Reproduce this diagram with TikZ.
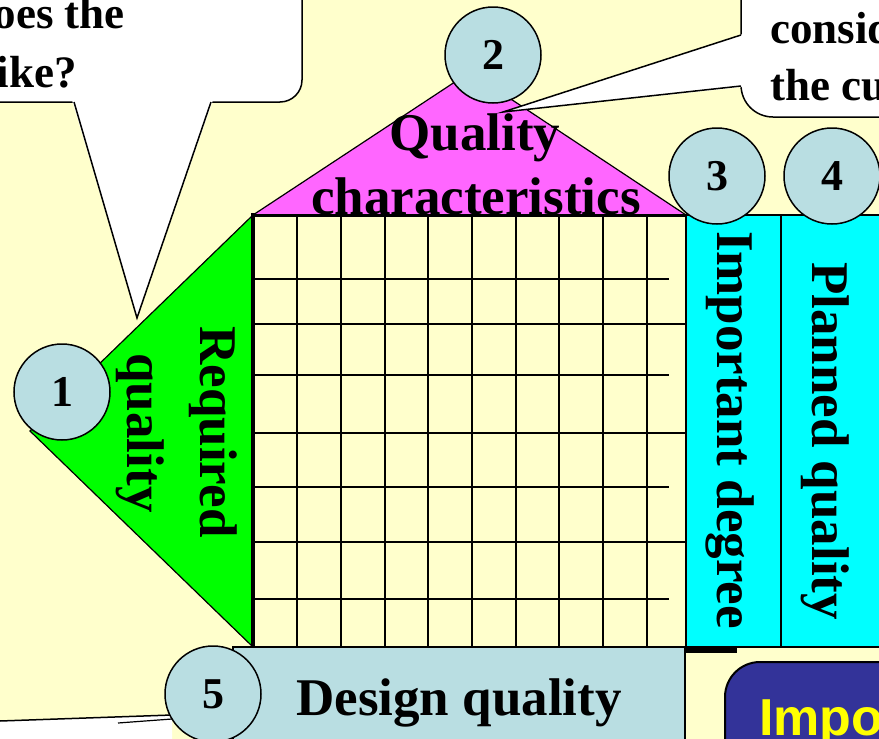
\documentclass[tikz,border=0pt]{standalone}
\usepackage{fontspec}
\setmainfont{Liberation Serif}
\newfontfamily\arialfont{Liberation Sans}
\definecolor{bgyellow}{HTML}{FFFFCC}
\definecolor{magentatri}{HTML}{FF66FF}
\definecolor{greentri}{HTML}{00FF00}
\definecolor{cyancol}{HTML}{00FFFF}
\definecolor{circblue}{HTML}{B9DEE2}
\definecolor{impblue}{HTML}{333399}
\definecolor{impyellow}{HTML}{FFFF00}
\tikzset{
  biglabel/.style={font=\fontsize{53}{60}\selectfont\bfseries, inner sep=0pt},
  calltext/.style={font=\fontsize{45}{50}\selectfont\bfseries, inner sep=0pt},
  numcirc/.style={circle, draw, line width=1.5pt, fill=circblue, minimum size=96pt,
    inner sep=0pt, font=\fontsize{44}{44}\selectfont\bfseries},
  gridthin/.style={line width=1.6pt},
  gridfull/.style={line width=2.2pt},
}
\begin{document}
\begin{tikzpicture}[x=1pt,y=-1pt]
\useasboundingbox (0,0) rectangle (879,739);
\clip (0,0) rectangle (879,739);
\fill[bgyellow] (0,0) rectangle (879,739);

% bottom-left white callout fragment
\fill[white] (0,721) -- (172,715) -- (172,745) -- (0,745) -- cycle;
\draw[line width=1.5pt] (0,721) -- (172,715);
\draw[line width=1.2pt] (118,723) -- (172,719);

% magenta triangle and its text
\draw[fill=magentatri, line width=1.2pt] (253,215) -- (470,72) -- (686,215) -- cycle;
\node[biglabel, anchor=base] (qual) at (475,150) {Quality};
\node[biglabel, anchor=base] (chars) at (476,214) {characteristics};

% green triangle
\draw[fill=greentri, line width=1.2pt] (253,215) -- (30,431) -- (253,647) -- cycle;

% grid
\fill[bgyellow] (253,215) rectangle (686,647);
\foreach \x in {297,341,385,428,472,516,559,603,647}
  \draw[gridfull] (\x,215) -- (\x,647);
\foreach \y in {279,375,487,599}
  \draw[gridthin] (253,\y) -- (669,\y);
\foreach \y in {324,433,542}
  \draw[gridfull] (253,\y) -- (686,\y);
\draw[line width=3pt] (251,215) -- (686,215);
\draw[gridfull] (253,647) -- (686,647);
\draw[line width=4.5pt] (253,213) -- (253,648);

% cyan columns
\draw[fill=cyancol, line width=1.2pt] (686,215) rectangle (781,647);
\draw[fill=cyancol, line width=1.2pt] (781,215) rectangle (900,647);
\fill (685,647) rectangle (737,653);

% design quality box
\draw[fill=circblue, line width=1.2pt] (233,647) rectangle (685,760);

% importance box
\draw[fill=impblue, line width=2pt, rounded corners=35pt] (725,662) rectangle (960,800);

% top-left callout
\draw[fill=white, line width=1.5pt, rounded corners=22pt] (-60,-60) rectangle (302,102);
\fill[white] (72,100) -- (137,318) -- (213,100) -- cycle;
\draw[line width=1.5pt] (74,102) -- (137,318) -- (211,102);

% top-right callout
\draw[fill=white, line width=1.5pt, rounded corners=32pt] (741,-60) rectangle (960,117);
\fill[white] (743,34) -- (503,112) -- (743,87) -- cycle;
\draw[line width=1.5pt] (741,35) -- (503,112) -- (741,86);

% callout texts
\node[calltext, anchor=base east] (t1) at (125,28) {does the};
\node[calltext, anchor=base east] (t2) at (77,87) {like?};
\node[calltext, anchor=base west] (t3) at (770,43) {consider};
\node[calltext, anchor=base west] (t4) at (770,100) {the customer};

% rotated labels
\node[biglabel, rotate=-90, anchor=base] (req) at (200,432) {Required};
\node[biglabel, rotate=-90, anchor=base] (reqq) at (127,433) {quality};
\node[biglabel, rotate=-90, anchor=base] (imp) at (717,430) {Important degree};
\node[biglabel, rotate=-90, anchor=base] (plan) at (812,441) {Planned quality};

% design quality text
\node[biglabel, anchor=base] (des) at (459,715) {Design quality};

% importance text
\node[anchor=base west, inner sep=0pt, text=impyellow,
  font=\arialfont\fontsize{52}{60}\selectfont\bfseries] (impo) at (759,735) {Impo};

% numbered circles
\node[numcirc] (c1) at (62,392) {1};
\node[numcirc] (c2) at (493,55) {2};
\node[numcirc] (c3) at (717,176) {3};
\node[numcirc] (c4) at (832,176) {4};
\node[numcirc] (c5) at (213,694) {5};
\end{tikzpicture}
\end{document}
